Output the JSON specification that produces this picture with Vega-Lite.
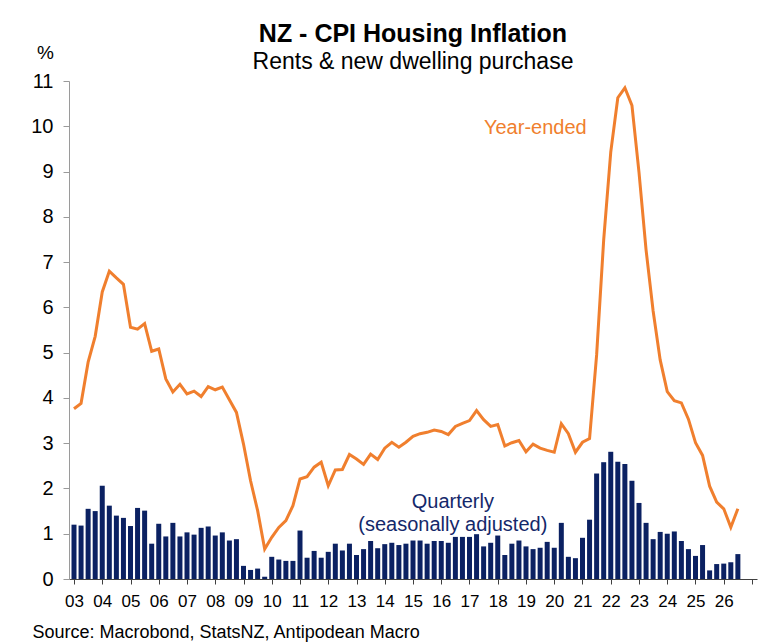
{
  "$schema": "https://vega.github.io/schema/vega-lite/v6.json",
  "width": 688,
  "height": 498,
  "autosize": {"type": "none"},
  "padding": {"left": 69, "top": 81, "right": 9, "bottom": 64},
  "background": "white",
  "config": {
    "font": "Liberation Sans",
    "view": {"stroke": null}
  },
  "title": {
    "text": "NZ - CPI Housing Inflation",
    "subtitle": "Rents & new dwelling purchase",
    "anchor": "middle",
    "frame": "group",
    "fontSize": 25,
    "fontWeight": "bold",
    "color": "#000000",
    "subtitleFontSize": 23,
    "subtitleColor": "#000000",
    "subtitlePadding": 4,
    "offset": -31
  },
  "datasets": {
    "cpi": [
      {"t": 2003.00, "quarterly": 1.20, "annual": 3.76},
      {"t": 2003.25, "quarterly": 1.18, "annual": 3.88},
      {"t": 2003.50, "quarterly": 1.55, "annual": 4.79},
      {"t": 2003.75, "quarterly": 1.50, "annual": 5.36},
      {"t": 2004.00, "quarterly": 2.06, "annual": 6.34},
      {"t": 2004.25, "quarterly": 1.62, "annual": 6.80},
      {"t": 2004.50, "quarterly": 1.40, "annual": 6.65},
      {"t": 2004.75, "quarterly": 1.35, "annual": 6.51},
      {"t": 2005.00, "quarterly": 1.17, "annual": 5.56},
      {"t": 2005.25, "quarterly": 1.57, "annual": 5.52},
      {"t": 2005.50, "quarterly": 1.51, "annual": 5.64},
      {"t": 2005.75, "quarterly": 0.78, "annual": 5.03},
      {"t": 2006.00, "quarterly": 1.22, "annual": 5.08},
      {"t": 2006.25, "quarterly": 0.94, "annual": 4.42},
      {"t": 2006.50, "quarterly": 1.24, "annual": 4.13},
      {"t": 2006.75, "quarterly": 0.94, "annual": 4.30},
      {"t": 2007.00, "quarterly": 1.03, "annual": 4.09},
      {"t": 2007.25, "quarterly": 0.98, "annual": 4.15},
      {"t": 2007.50, "quarterly": 1.13, "annual": 4.03},
      {"t": 2007.75, "quarterly": 1.16, "annual": 4.25},
      {"t": 2008.00, "quarterly": 0.96, "annual": 4.18},
      {"t": 2008.25, "quarterly": 1.03, "annual": 4.24},
      {"t": 2008.50, "quarterly": 0.85, "annual": 3.96},
      {"t": 2008.75, "quarterly": 0.88, "annual": 3.68},
      {"t": 2009.00, "quarterly": 0.29, "annual": 2.98},
      {"t": 2009.25, "quarterly": 0.20, "annual": 2.17},
      {"t": 2009.50, "quarterly": 0.23, "annual": 1.51},
      {"t": 2009.75, "quarterly": 0.05, "annual": 0.66},
      {"t": 2010.00, "quarterly": 0.49, "annual": 0.92},
      {"t": 2010.25, "quarterly": 0.43, "annual": 1.14},
      {"t": 2010.50, "quarterly": 0.40, "annual": 1.29},
      {"t": 2010.75, "quarterly": 0.40, "annual": 1.62},
      {"t": 2011.00, "quarterly": 1.07, "annual": 2.21},
      {"t": 2011.25, "quarterly": 0.47, "annual": 2.26},
      {"t": 2011.50, "quarterly": 0.62, "annual": 2.47},
      {"t": 2011.75, "quarterly": 0.47, "annual": 2.58},
      {"t": 2012.00, "quarterly": 0.60, "annual": 2.06},
      {"t": 2012.25, "quarterly": 0.78, "annual": 2.41},
      {"t": 2012.50, "quarterly": 0.63, "annual": 2.42},
      {"t": 2012.75, "quarterly": 0.78, "annual": 2.75},
      {"t": 2013.00, "quarterly": 0.53, "annual": 2.65},
      {"t": 2013.25, "quarterly": 0.66, "annual": 2.53},
      {"t": 2013.50, "quarterly": 0.84, "annual": 2.76},
      {"t": 2013.75, "quarterly": 0.68, "annual": 2.64},
      {"t": 2014.00, "quarterly": 0.77, "annual": 2.89},
      {"t": 2014.25, "quarterly": 0.80, "annual": 3.02},
      {"t": 2014.50, "quarterly": 0.75, "annual": 2.91},
      {"t": 2014.75, "quarterly": 0.78, "annual": 3.02},
      {"t": 2015.00, "quarterly": 0.85, "annual": 3.15},
      {"t": 2015.25, "quarterly": 0.85, "annual": 3.21},
      {"t": 2015.50, "quarterly": 0.78, "annual": 3.24},
      {"t": 2015.75, "quarterly": 0.84, "annual": 3.29},
      {"t": 2016.00, "quarterly": 0.84, "annual": 3.26},
      {"t": 2016.25, "quarterly": 0.80, "annual": 3.19},
      {"t": 2016.50, "quarterly": 0.93, "annual": 3.37},
      {"t": 2016.75, "quarterly": 0.93, "annual": 3.44},
      {"t": 2017.00, "quarterly": 0.93, "annual": 3.50},
      {"t": 2017.25, "quarterly": 0.99, "annual": 3.72},
      {"t": 2017.50, "quarterly": 0.72, "annual": 3.52},
      {"t": 2017.75, "quarterly": 0.80, "annual": 3.37},
      {"t": 2018.00, "quarterly": 0.96, "annual": 3.41},
      {"t": 2018.25, "quarterly": 0.53, "annual": 2.94},
      {"t": 2018.50, "quarterly": 0.78, "annual": 3.01},
      {"t": 2018.75, "quarterly": 0.85, "annual": 3.06},
      {"t": 2019.00, "quarterly": 0.72, "annual": 2.81},
      {"t": 2019.25, "quarterly": 0.66, "annual": 2.98},
      {"t": 2019.50, "quarterly": 0.69, "annual": 2.89},
      {"t": 2019.75, "quarterly": 0.82, "annual": 2.84},
      {"t": 2020.00, "quarterly": 0.69, "annual": 2.80},
      {"t": 2020.25, "quarterly": 1.24, "annual": 3.43},
      {"t": 2020.50, "quarterly": 0.49, "annual": 3.21},
      {"t": 2020.75, "quarterly": 0.46, "annual": 2.80},
      {"t": 2021.00, "quarterly": 0.91, "annual": 3.02},
      {"t": 2021.25, "quarterly": 1.31, "annual": 3.10},
      {"t": 2021.50, "quarterly": 2.33, "annual": 4.95},
      {"t": 2021.75, "quarterly": 2.58, "annual": 7.49},
      {"t": 2022.00, "quarterly": 2.81, "annual": 9.43},
      {"t": 2022.25, "quarterly": 2.59, "annual": 10.63},
      {"t": 2022.50, "quarterly": 2.54, "annual": 10.85},
      {"t": 2022.75, "quarterly": 2.17, "annual": 10.46},
      {"t": 2023.00, "quarterly": 1.68, "annual": 8.98},
      {"t": 2023.25, "quarterly": 1.24, "annual": 7.27},
      {"t": 2023.50, "quarterly": 0.88, "annual": 5.92},
      {"t": 2023.75, "quarterly": 1.04, "annual": 4.84},
      {"t": 2024.00, "quarterly": 1.00, "annual": 4.14},
      {"t": 2024.25, "quarterly": 1.05, "annual": 3.94},
      {"t": 2024.50, "quarterly": 0.84, "annual": 3.89},
      {"t": 2024.75, "quarterly": 0.66, "annual": 3.53},
      {"t": 2025.00, "quarterly": 0.51, "annual": 3.01},
      {"t": 2025.25, "quarterly": 0.75, "annual": 2.73},
      {"t": 2025.50, "quarterly": 0.19, "annual": 2.05},
      {"t": 2025.75, "quarterly": 0.33, "annual": 1.70},
      {"t": 2026.00, "quarterly": 0.34, "annual": 1.55},
      {"t": 2026.25, "quarterly": 0.37, "annual": 1.14},
      {"t": 2026.50, "quarterly": 0.55, "annual": 1.55}
    ],
    "labels": [
      {"series": "annual", "t": 2019.33, "v": 9.96, "label": "Year-ended"},
      {"series": "quarterly", "t": 2016.41, "v": 1.71, "label": "Quarterly\n(seasonally adjusted)"}
    ]
  },
  "data": {"name": "cpi"},
  "encoding": {
    "x": {
      "field": "t",
      "type": "quantitative",
      "scale": {"domain": [2003, 2027], "nice": false, "zero": false},
      "axis": {
        "values": [2003, 2004, 2005, 2006, 2007, 2008, 2009, 2010, 2011, 2012, 2013, 2014, 2015, 2016, 2017, 2018, 2019, 2020, 2021, 2022, 2023, 2024, 2025, 2026, 2027],
        "labelExpr": "datum.value < 2027 ? slice(toString(datum.value), 2) : ''",
        "title": "Source: Macrobond, StatsNZ, Antipodean Macro",
        "titleFontSize": 18,
        "titleFontWeight": "normal",
        "titleColor": "#000000",
        "titleAnchor": "start",
        "titleAlign": "left",
        "titleBaseline": "middle",
        "titleX": -37,
        "titleY": 53,
        "grid": false,
        "domainColor": "#404040",
        "tickColor": "#404040",
        "tickSize": 5,
        "labelFontSize": 17,
        "labelColor": "#000000",
        "labelPadding": 9,
        "labelOverlap": false,
        "labelFlush": false
      }
    }
  },
  "layer": [
    {
      "mark": {"type": "bar", "size": 5, "color": "#0B2162", "clip": true},
      "encoding": {
        "y": {
          "field": "quarterly",
          "type": "quantitative",
          "scale": {"domain": [0, 11], "nice": false},
          "axis": {
            "values": [0, 1, 2, 3, 4, 5, 6, 7, 8, 9, 10, 11],
            "title": "%",
            "titleAngle": 0,
            "titleFontSize": 19,
            "titleFontWeight": "normal",
            "titleColor": "#000000",
            "titleAlign": "center",
            "titleBaseline": "middle",
            "titleX": -24,
            "titleY": -29,
            "grid": false,
            "domainColor": "#9a9a9a",
            "tickColor": "#9a9a9a",
            "tickSize": 6,
            "labelFontSize": 20,
            "labelColor": "#000000",
            "labelPadding": 10
          }
        }
      }
    },
    {
      "mark": {"type": "line", "color": "#F07F2E", "strokeWidth": 3, "clip": true},
      "encoding": {
        "y": {"field": "annual", "type": "quantitative"}
      }
    },
    {
      "data": {"name": "labels"},
      "mark": {"type": "text", "fontSize": 20, "align": "center", "baseline": "middle", "lineHeight": 23, "lineBreak": "\n"},
      "encoding": {
        "y": {"field": "v", "type": "quantitative"},
        "text": {"field": "label"},
        "color": {
          "field": "series",
          "type": "nominal",
          "scale": {"domain": ["annual", "quarterly"], "range": ["#F07F2E", "#14286A"]},
          "legend": null
        }
      }
    }
  ]
}
